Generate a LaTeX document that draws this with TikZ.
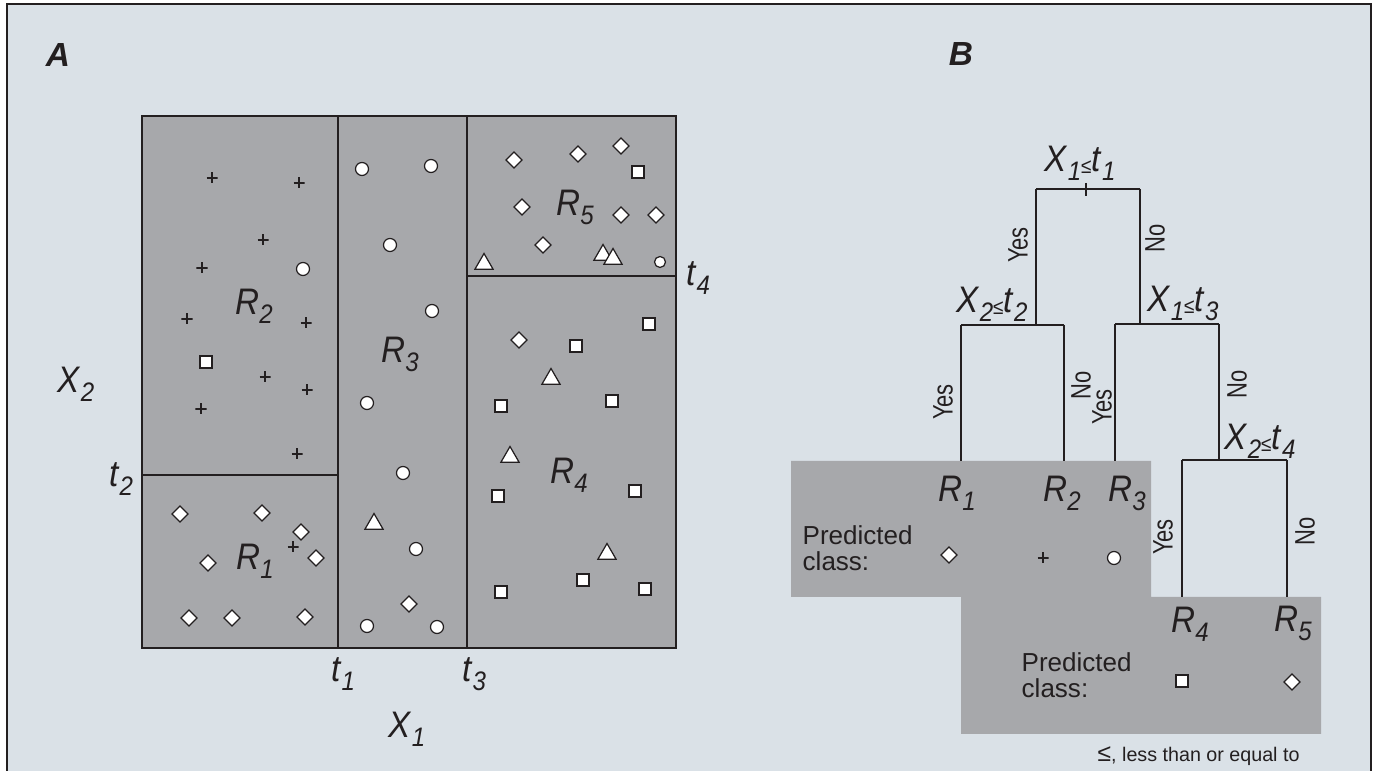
\documentclass[tikz,border=0pt]{standalone}
\usepackage{fontspec}
\setmainfont{Liberation Sans}
\newfontfamily\condfont{Liberation Sans}[FakeStretch=0.78]
\newfontfamily\lblfont{Liberation Sans}[FakeStretch=0.9]
\usetikzlibrary{shapes.geometric, calc}
\definecolor{panelbg}{HTML}{DAE1E7}
\definecolor{regiongray}{HTML}{A7A8AB}
\definecolor{inkline}{HTML}{231F20}
\newcommand{\vsub}[2]{\textit{#1}\raisebox{-2.3pt}{\fontsize{7.6}{8}\selectfont\textit{#2}}}
\newcommand{\splitcond}[2]{\vsub{X}{#1}\raisebox{-0.4pt}{\fontsize{6}{7}\selectfont ≤}\vsub{t}{#2}}
\tikzset{
  markbase/.style={draw=inkline, fill=white, line width=0.35pt, inner sep=0pt},
  mdiam/.style={markbase, diamond, minimum width=0.165cm, minimum height=0.165cm},
  mcirc/.style={markbase, circle, minimum size=0.13cm},
  msq/.style={markbase, rectangle, minimum size=0.12cm},
  mtri/.style={markbase, regular polygon, regular polygon sides=3, minimum size=0.21cm},
  mplus/.style={inner sep=0pt, minimum size=0.11cm,
    path picture={\draw[inkline, line width=0.3pt]
      (path picture bounding box.north) -- (path picture bounding box.south)
      (path picture bounding box.west) -- (path picture bounding box.east);}},
  varlbl/.style={font=\lblfont\fontsize{10.5}{12}\selectfont, text=inkline, inner sep=0pt, anchor=base},
  panellbl/.style={font=\fontsize{9.5}{11}\selectfont\bfseries\itshape, text=inkline, inner sep=0pt},
  yesno/.style={font=\condfont\fontsize{8}{9}\selectfont, text=inkline, rotate=90, inner sep=0pt},
  predlbl/.style={font=\fontsize{7.4}{7.4}\selectfont, text=inkline, align=left, anchor=west, inner sep=0pt},
  branch/.style={draw=inkline, line width=0.6pt},
  splitline/.style={draw=inkline, line width=0.7pt},
}
\begin{document}
\begin{tikzpicture}[x=0.01cm, y=-0.01cm]
  \useasboundingbox (0,0) rectangle (1379,771);
  \draw[inkline, fill=panelbg, line width=0.5pt] (7,4) rectangle (1371,790);

  % A: the cut feature space
  \node[panellbl] (labA) at (58,55) {A};
  \draw[splitline, fill=regiongray] (142,116) rectangle (676,648);
  \draw[splitline] (338,116) -- (338,648);
  \draw[splitline] (467,116) -- (467,648);
  \draw[splitline] (142,475) -- (338,475);
  \draw[splitline] (467,276) -- (676,276);

  \node[varlbl] (xtwo) at (76,393) {\vsub{X}{2}};
  \node[varlbl] (xone) at (407,738) {\vsub{X}{1}};
  \node[varlbl] (ttwo) at (121,487) {\vsub{t}{2}};
  \node[varlbl] (tone) at (343,682) {\vsub{t}{1}};
  \node[varlbl] (tthree) at (474,682) {\vsub{t}{3}};
  \node[varlbl] (tfour) at (698,286) {\vsub{t}{4}};

  \node[varlbl] (reg1) at (255,570) {\vsub{R}{1}};
  \node[varlbl] (reg2) at (254,315) {\vsub{R}{2}};
  \node[varlbl] (reg3) at (400,363) {\vsub{R}{3}};
  \node[varlbl] (reg4) at (569,484) {\vsub{R}{4}};
  \node[varlbl] (reg5) at (575,216) {\vsub{R}{5}};

  % observations
  \foreach \px/\py [count=\k] in {212/178, 299/183, 263/240, 202/268, 187/319, 306/323,
      265/377, 307/390, 201/409, 297/454, 293/547}
    \node[mplus] (pt-plus\k) at (\px,\py) {};
  \foreach \px/\py [count=\k] in {303/269, 362/169, 431/166, 390/245, 432/311, 367/403,
      403/473, 416/549, 367/626, 437/627}
    \node[mcirc] (pt-circ\k) at (\px,\py) {};
  \node[mcirc, minimum size=0.11cm] (pt-circ11) at (660,262) {};
  \foreach \px/\py [count=\k] in {180/514, 262/513, 301/532, 208/563, 316/558, 189/618,
      232/618, 305/617, 409/604, 514/160, 578/154, 621/146, 522/207, 621/215, 656/215,
      543/245, 519/340}
    \node[mdiam] (pt-diam\k) at (\px,\py) {};
  \foreach \px/\py [count=\k] in {206/362, 638/172, 649/324, 576/346, 501/406, 612/401,
      498/496, 635/491, 583/580, 501/592, 645/589}
    \node[msq] (pt-sq\k) at (\px,\py) {};
  \foreach \px/\py [count=\k] in {374/524, 484/264, 603/255, 613/259, 551/379, 510/457, 607/554}
    \node[mtri] (pt-tri\k) at (\px,\py) {};

  % B: the tree
  \node[panellbl] (labB) at (961,54) {B};
  \fill[regiongray] (791,461) -- (1151,461) -- (1151,597) -- (1321,597) -- (1321,734)
    -- (961,734) -- (961,597) -- (791,597) -- cycle;

  \node[varlbl] (cond1) at (1080,172) {\splitcond{1}{1}};
  \node[varlbl] (cond2) at (992,313) {\splitcond{2}{2}};
  \node[varlbl] (cond3) at (1183,312) {\splitcond{1}{3}};
  \node[varlbl] (cond4) at (1260,450) {\splitcond{2}{4}};

  \coordinate (c1l) at (1036,189);  \coordinate (c1r) at (1140,189);
  \coordinate (c1mark) at (1086,189);
  \coordinate (c2l) at (961,325);   \coordinate (c2r) at (1064,325);
  \coordinate (c3l) at (1115,324);  \coordinate (c3r) at (1219,324);
  \coordinate (c4l) at (1182,460);  \coordinate (c4r) at (1287,460);
  \coordinate (leaf1) at (961,461); \coordinate (leaf2) at (1064,461);
  \coordinate (leaf3) at (1115,461);
  \coordinate (leaf4) at (1182,597); \coordinate (leaf5) at (1287,597);

  \draw[branch] (c1l) -- (c1r);
  \draw[branch] (c1mark) ++(0,-6) -- ++(0,13);
  \draw[branch] (c1l) -- (c1l |- c2l);
  \draw[branch] (c1r) -- (c1r |- c3l);
  \draw[branch] (c2l) -- (c2r);
  \draw[branch] (c2l) -- (leaf1);
  \draw[branch] (c2r) -- (leaf2);
  \draw[branch] (c3l) -- (c3r);
  \draw[branch] (c3l) -- (leaf3);
  \draw[branch] (c3r) -- (c3r |- c4l);
  \draw[branch] (c4l) -- (c4r);
  \draw[branch] (c4l) -- (leaf4);
  \draw[branch] (c4r) -- (leaf5);

  \node[yesno] (yes1) at (1018,245) {Yes};
  \node[yesno] (no1) at (1155,238) {No};
  \node[yesno] (yes2) at (943,402) {Yes};
  \node[yesno] (no2) at (1081,385) {No};
  \node[yesno] (yes3) at (1102,407) {Yes};
  \node[yesno] (no3) at (1237,384) {No};
  \node[yesno] (yes4) at (1163,537) {Yes};
  \node[yesno] (no4) at (1305,531) {No};

  % leaves and their classes
  \node[varlbl] (leafR1) at (957,502) {\vsub{R}{1}};
  \node[varlbl] (leafR2) at (1062,502) {\vsub{R}{2}};
  \node[varlbl] (leafR3) at (1127,502) {\vsub{R}{3}};
  \node[varlbl] (leafR4) at (1190,633) {\vsub{R}{4}};
  \node[varlbl] (leafR5) at (1293,632) {\vsub{R}{5}};

  \node[predlbl] (pred1) at (802,548) {Predicted\\class:};
  \node[predlbl] (pred2) at (1021,675) {Predicted\\class:};
  \node[mdiam] (cls1) at (949,555) {};
  \node[mplus] (cls2) at (1043,558) {};
  \node[mcirc] (cls3) at (1114,558) {};
  \node[msq] (cls4) at (1182,681) {};
  \node[mdiam] (cls5) at (1292,682) {};

  \node[font=\fontsize{5.6}{6}\selectfont, text=inkline, anchor=base west, inner sep=0pt]
    (keynote) at (1097,762) {{\fontsize{7}{7}\selectfont ≤}, less than or equal to};
\end{tikzpicture}
\end{document}
